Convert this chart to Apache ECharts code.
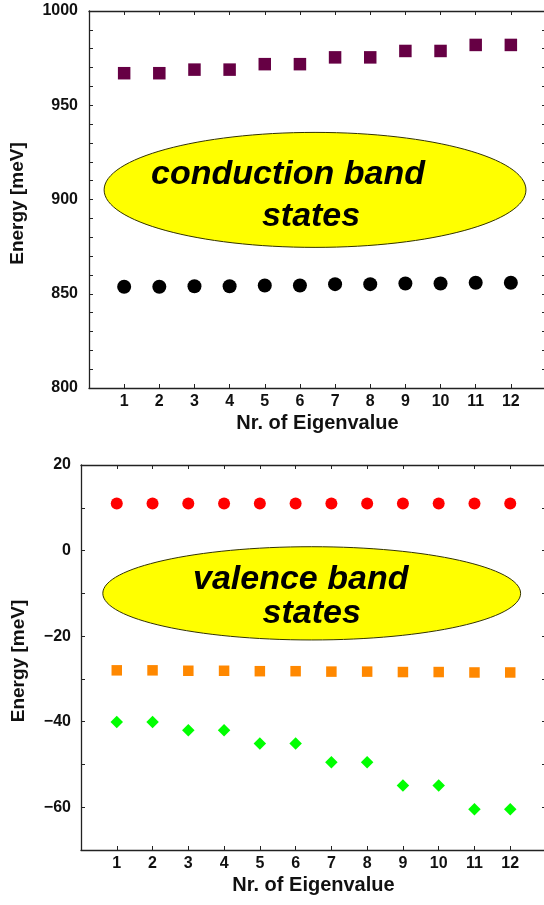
<!DOCTYPE html>
<html>
<head>
<meta charset="utf-8">
<script src="https://cdn.jsdelivr.net/npm/echarts@6/dist/echarts.min.js"></script>
<style>html,body{margin:0;padding:0;background:#fff}#c{width:544px;height:905px}</style>
</head>
<body>
<div id="c"></div>
<script>
// Eigenvalue index 1..12
const eigenIndex = [1,2,3,4,5,6,7,8,9,10,11,12];
// Conduction band states (meV)
const cbUpper = [967.0, 967.0, 968.9, 968.9, 971.8, 971.8, 975.4, 975.4, 978.8, 978.8, 982.0, 982.0];
const cbLower = [853.7, 853.7, 854.0, 854.0, 854.4, 854.4, 855.1, 855.1, 855.4, 855.4, 855.8, 855.8];
// Valence band states (meV)
const vbTop = [11.0, 11.0, 11.0, 11.0, 11.0, 11.0, 11.0, 11.0, 11.0, 11.0, 11.0, 11.0];
const vbMid = [-28.0, -28.0, -28.1, -28.1, -28.2, -28.2, -28.3, -28.3, -28.4, -28.4, -28.5, -28.5];
const vbLow = [-40.1, -40.1, -42.0, -42.0, -45.1, -45.1, -49.5, -49.5, -54.9, -54.9, -60.5, -60.5];
// Axis texts
const xTitle = 'Nr. of Eigenvalue';
const yTitle = 'Energy [meV]';
const cbLabel = ['conduction band', 'states'];
const vbLabel = ['valence band', 'states'];

const FONT = '"Liberation Sans", Arial, Helvetica, sans-serif';
const pairs = ys => eigenIndex.map((x, i) => [x, ys[i]]);
const axisLine = {show: true, onZero: false, lineStyle: {color: '#222', width: 1.3}};
const tick = {show: true, inside: true, length: 4, lineStyle: {color: '#222', width: 1}};
const labelStyle = {color: '#111', fontFamily: FONT, fontWeight: 'bold', fontSize: 16};
const titleStyle = {color: '#111', fontFamily: FONT, fontWeight: 'bold', fontSize: 19};
const fmtNum = v => (v < 0 ? '\u2212' + (-v) : String(v));

function xAxes(gi) {
  return [
    {type: 'value', gridIndex: gi, min: 0, max: 13, interval: 1, position: 'bottom',
     axisLine, axisTick: tick, splitLine: {show: false},
     axisLabel: Object.assign({margin: 6, formatter: v => (v >= 1 && v <= 12) ? String(v) : ''}, labelStyle),
     name: xTitle, nameLocation: 'middle', nameGap: 25,
     nameTextStyle: Object.assign({}, titleStyle, {fontSize: 20})},
    {type: 'value', gridIndex: gi, min: 0, max: 13, interval: 1, position: 'top',
     axisLine, axisTick: tick, axisLabel: {show: false}, splitLine: {show: false}}
  ];
}

const option = {
  animation: false,
  backgroundColor: '#fff',
  grid: [
    {left: 89, top: 11, width: 457, height: 377, outerBoundsMode: 'none', containLabel: false},
    {left: 81, top: 465, width: 465, height: 385, outerBoundsMode: 'none', containLabel: false}
  ],
  xAxis: [...xAxes(0), ...xAxes(1)],
  yAxis: [
    {type: 'value', gridIndex: 0, min: 800, max: 1000, interval: 10, position: 'left',
     axisLine, axisTick: tick, splitLine: {show: false},
     axisLabel: Object.assign({margin: 11, formatter: v => (v % 50 === 0) ? fmtNum(v) : ''}, labelStyle),
     name: yTitle, nameLocation: 'middle', nameGap: 62, nameRotate: 90,
     nameTextStyle: Object.assign({padding: [0, 8, 0, 0]}, titleStyle)},
    {type: 'value', gridIndex: 0, min: 800, max: 1000, interval: 10, position: 'right',
     axisLine, axisTick: tick, axisLabel: {show: false}, splitLine: {show: false}},
    {type: 'value', gridIndex: 1, min: -70, max: 20, interval: 10, position: 'left',
     axisLine, axisTick: tick, splitLine: {show: false},
     axisLabel: Object.assign({margin: 10, formatter: v => (v % 20 === 0) ? fmtNum(v) : ''}, labelStyle),
     name: yTitle, nameLocation: 'middle', nameGap: 53, nameRotate: 90,
     nameTextStyle: Object.assign({padding: [0, 7, 0, 0]}, titleStyle)},
    {type: 'value', gridIndex: 1, min: -70, max: 20, interval: 10, position: 'right',
     axisLine, axisTick: tick, axisLabel: {show: false}, splitLine: {show: false}}
  ],
  series: [
    {type: 'scatter', xAxisIndex: 0, yAxisIndex: 0, data: pairs(cbUpper), symbol: 'rect', symbolSize: 12.5,
     itemStyle: {color: '#660044', opacity: 1}, z: 5},
    {type: 'scatter', xAxisIndex: 0, yAxisIndex: 0, data: pairs(cbLower), symbol: 'circle', symbolSize: 14,
     itemStyle: {color: '#000', opacity: 1}, z: 5},
    {type: 'scatter', xAxisIndex: 2, yAxisIndex: 2, data: pairs(vbTop), symbol: 'circle', symbolSize: 12,
     itemStyle: {color: '#ff0000', opacity: 1}, z: 5},
    {type: 'scatter', xAxisIndex: 2, yAxisIndex: 2, data: pairs(vbMid), symbol: 'rect', symbolSize: 10.5,
     itemStyle: {color: '#ff8800', opacity: 1}, z: 5},
    {type: 'scatter', xAxisIndex: 2, yAxisIndex: 2, data: pairs(vbLow), symbol: 'diamond', symbolSize: 12.5,
     itemStyle: {color: '#00ff00', opacity: 1}, z: 5}
  ]
};

const chart = echarts.init(document.getElementById('c'), null, {renderer: 'canvas'});
chart.setOption(option);

// Annotation ellipses anchored in data coordinates
function ellipseGraphic(xIdx, yIdx, cx, cy, rxData, ryData, lines, l1dx, l2dx, l1dy, l2dy) {
  const c = chart.convertToPixel({xAxisIndex: xIdx, yAxisIndex: yIdx}, [cx, cy]);
  const e = chart.convertToPixel({xAxisIndex: xIdx, yAxisIndex: yIdx}, [cx + rxData, cy - ryData]);
  const rx = e[0] - c[0], ry = e[1] - c[1];
  const ts = {fill: '#000', font: 'italic bold 34px ' + FONT, align: 'center', verticalAlign: 'middle'};
  return [
    {type: 'ellipse', shape: {cx: c[0], cy: c[1], rx, ry},
     style: {fill: '#ffff00', stroke: '#333300', lineWidth: 1}, z: 10},
    {type: 'text', x: c[0] + l1dx, y: c[1] + l1dy, style: Object.assign({text: lines[0]}, ts), z: 11},
    {type: 'text', x: c[0] + l2dx, y: c[1] + l2dy, style: Object.assign({text: lines[1]}, ts), z: 11}
  ];
}
chart.setOption({
  graphic: [
    ...ellipseGraphic(0, 0, 6.43, 905.1, 6.0, 30.5, cbLabel, -27, -4, -15, 27),
    ...ellipseGraphic(2, 2, 6.45, -10.0, 5.84, 10.9, vbLabel, -11, 0, -14, 20)
  ]
});
</script>
</body>
</html>
